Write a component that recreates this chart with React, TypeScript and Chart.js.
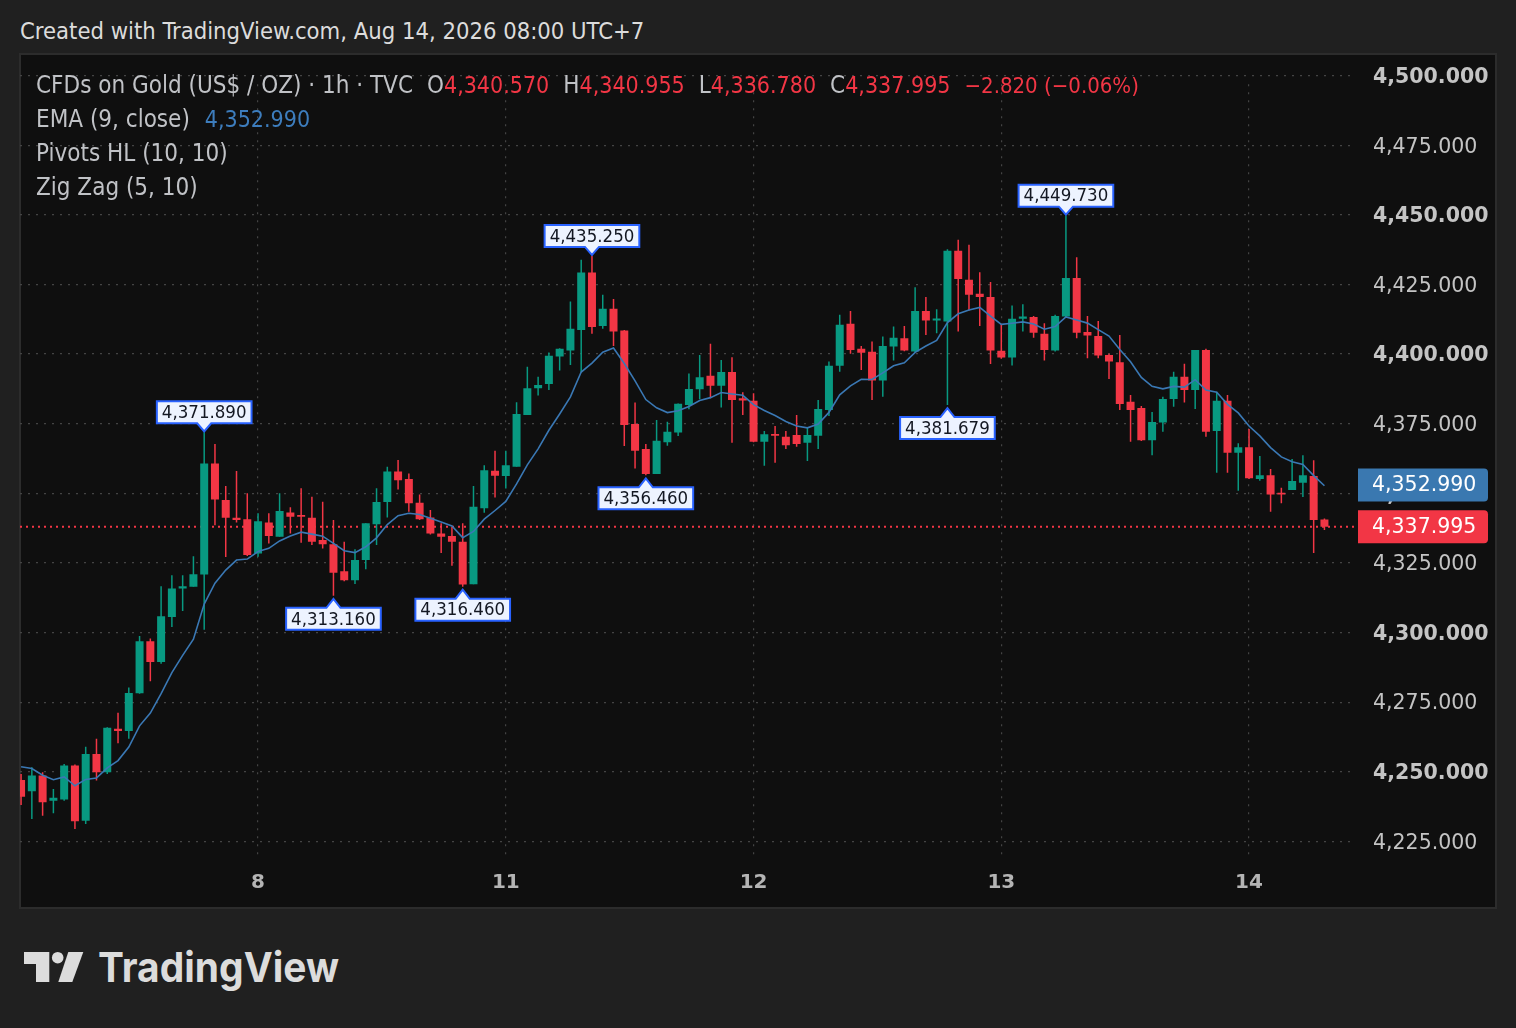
import React, { useEffect, useRef } from 'react';
import { Chart, registerables } from 'chart.js';

Chart.register(...registerables);

// ---- data (1h candles) ----
const opens = [
  4247.0, 4243.0, 4248.6, 4239.6, 4240.0, 4252.2, 4232.4, 4256.4, 4249.8, 4265.4,
  4264.6, 4278.2, 4296.9, 4289.4, 4305.6, 4315.8, 4316.4, 4320.8, 4360.7, 4347.6,
  4341.2, 4340.7, 4328.4, 4339.5, 4334.4, 4343.1, 4342.2, 4341.2, 4333.2, 4331.7,
  4322.0, 4318.8, 4326.0, 4338.9, 4346.9, 4357.8, 4355.1, 4346.6, 4341.3, 4335.6,
  4334.7, 4332.6, 4317.3, 4344.6, 4358.1, 4356.2, 4359.5, 4378.1, 4387.7, 4389.3,
  4399.1, 4401.3, 4408.7, 4429.3, 4410.1, 4416.3, 4408.5, 4374.9, 4365.9, 4356.9,
  4368.3, 4371.8, 4381.7, 4387.4, 4392.2, 4388.6, 4393.6, 4384.1, 4383.2, 4368.5,
  4371.3, 4370.3, 4370.9, 4368.2, 4370.7, 4379.9, 4395.8, 4410.9, 4401.9, 4400.8,
  4390.5, 4402.7, 4405.7, 4400.9, 4415.5, 4412.1, 4411.7, 4437.1, 4426.7, 4421.7,
  4420.5, 4401.2, 4398.8, 4412.7, 4413.3, 4407.3, 4401.3, 4413.5, 4427.3, 4407.9,
  4406.5, 4399.7, 4397.1, 4382.9, 4380.6, 4369.1, 4375.4, 4383.9, 4391.9, 4387.1,
  4401.5, 4372.4, 4383.2, 4364.6, 4366.5, 4355.1, 4356.5, 4350.2, 4351.2, 4353.8,
  4356.2, 4340.57,
];
const highs = [
  4249.2, 4251.6, 4249.8, 4243.8, 4252.8, 4252.6, 4259.0, 4261.8, 4266.0, 4271.2,
  4280.2, 4298.7, 4297.8, 4316.6, 4320.6, 4320.6, 4327.4, 4371.89, 4367.7, 4352.6,
  4358.0, 4350.0, 4342.8, 4342.8, 4350.0, 4345.0, 4351.8, 4348.8, 4347.0, 4340.4,
  4332.6, 4329.9, 4339.2, 4351.8, 4359.5, 4362.0, 4357.1, 4349.6, 4344.0, 4339.2,
  4338.0, 4339.2, 4352.6, 4360.1, 4365.3, 4365.3, 4382.7, 4395.5, 4391.9, 4400.6,
  4402.1, 4418.9, 4433.9, 4435.25, 4421.3, 4419.8, 4408.7, 4382.6, 4367.7, 4376.3,
  4375.7, 4382.3, 4393.0, 4399.7, 4403.7, 4397.9, 4398.9, 4386.3, 4385.9, 4372.4,
  4374.2, 4372.4, 4378.1, 4373.7, 4383.5, 4397.3, 4414.1, 4415.5, 4402.9, 4404.5,
  4406.3, 4409.9, 4410.1, 4424.0, 4420.5, 4416.1, 4437.7, 4441.1, 4439.3, 4429.4,
  4425.9, 4410.9, 4417.5, 4417.9, 4413.7, 4411.1, 4414.1, 4449.73, 4434.8, 4413.7,
  4411.9, 4400.1, 4406.9, 4385.3, 4381.4, 4379.2, 4384.7, 4393.7, 4396.5, 4401.5,
  4401.9, 4386.5, 4385.3, 4368.0, 4373.1, 4363.4, 4358.7, 4352.0, 4362.3, 4363.7,
  4361.9, 4340.955,
];
const lows = [
  4238.0, 4233.0, 4234.2, 4235.1, 4239.6, 4229.4, 4231.2, 4246.8, 4249.2, 4260.2,
  4261.8, 4278.0, 4282.5, 4288.8, 4302.0, 4307.7, 4316.4, 4301.0, 4338.5, 4327.1,
  4339.5, 4327.5, 4327.2, 4332.0, 4334.4, 4335.6, 4332.2, 4331.4, 4330.2, 4313.16,
  4318.4, 4317.4, 4322.7, 4331.4, 4341.3, 4351.4, 4343.4, 4340.4, 4335.2, 4328.6,
  4324.0, 4316.46, 4317.3, 4343.0, 4348.5, 4351.7, 4359.5, 4378.1, 4385.1, 4387.1,
  4394.1, 4396.1, 4393.4, 4407.3, 4409.1, 4402.9, 4367.0, 4358.9, 4356.46, 4356.9,
  4367.1, 4370.6, 4380.2, 4383.8, 4384.1, 4380.8, 4368.2, 4378.1, 4368.3, 4359.9,
  4361.0, 4365.9, 4366.7, 4361.6, 4365.9, 4377.8, 4393.7, 4400.1, 4394.3, 4383.5,
  4384.7, 4397.7, 4401.0, 4400.5, 4406.9, 4407.5, 4381.679, 4408.1, 4415.7, 4410.1,
  4396.4, 4398.3, 4395.9, 4408.1, 4405.9, 4397.7, 4400.9, 4413.3, 4405.7, 4398.5,
  4398.5, 4391.1, 4379.9, 4368.5, 4368.8, 4363.7, 4372.1, 4381.1, 4382.6, 4380.3,
  4370.3, 4357.4, 4357.4, 4350.9, 4355.1, 4354.5, 4343.4, 4346.4, 4351.2, 4348.7,
  4328.6, 4336.78,
];
const closes = [
  4241.0, 4248.6, 4239.0, 4240.6, 4252.2, 4232.2, 4256.4, 4249.8, 4265.8, 4264.6,
  4278.3, 4296.9, 4289.4, 4305.8, 4315.8, 4316.6, 4320.9, 4360.7, 4347.8, 4341.2,
  4340.4, 4327.8, 4340.0, 4334.7, 4343.6, 4341.6, 4341.6, 4332.6, 4331.7, 4321.5,
  4318.8, 4326.0, 4339.2, 4346.9, 4357.8, 4354.7, 4346.4, 4340.7, 4335.6, 4334.4,
  4332.6, 4317.2, 4345.2, 4358.3, 4356.3, 4360.1, 4378.5, 4387.7, 4388.9, 4399.4,
  4401.9, 4409.1, 4429.3, 4409.7, 4416.3, 4408.1, 4374.5, 4365.3, 4356.9, 4368.9,
  4372.1, 4382.2, 4387.5, 4391.7, 4388.6, 4393.6, 4383.5, 4383.3, 4368.5, 4371.2,
  4370.7, 4367.3, 4367.7, 4370.9, 4380.3, 4395.8, 4410.5, 4401.5, 4400.5, 4390.5,
  4402.9, 4405.9, 4401.3, 4415.5, 4412.1, 4412.8, 4437.1, 4427.0, 4421.3, 4420.5,
  4401.3, 4398.8, 4412.7, 4413.5, 4407.7, 4401.5, 4413.7, 4427.3, 4407.7, 4406.7,
  4399.5, 4397.3, 4382.1, 4379.9, 4369.1, 4375.6, 4383.9, 4391.9, 4387.1, 4401.5,
  4372.1, 4383.2, 4364.6, 4366.5, 4355.4, 4356.5, 4349.6, 4349.6, 4354.4, 4356.5,
  4340.4, 4337.995,
];

const dayTickIdx = [22, 45, 68, 91, 114];
const dayTickLabels = ['8', '11', '12', '13', '14'];
const priceTicks = [4225, 4250, 4275, 4300, 4325, 4350, 4375, 4400, 4425, 4450, 4475, 4500];

const pivotHighIdx = [17, 53, 97];
const pivotLowIdx = [29, 41, 58, 86];

const emaPeriod = 9;
const emaSeed = 4254.5; // EMA value just before the first visible candle
const emaLastValue = 4352.99; // from the legend

// ---- legend texts ----
const symbolText = 'CFDs on Gold (US$ / OZ) · 1h · TVC';
const ohlcLabels = ['O', 'H', 'L', 'C'];
const ohlcValues = ['4,340.570', '4,340.955', '4,336.780', '4,337.995'];
const changeText = '−2.820 (−0.06%)';
const emaName = 'EMA (9, close)';
const emaValueText = '4,352.990';
const pivotsName = 'Pivots HL (10, 10)';
const zigzagName = 'Zig Zag (5, 10)';
const titleText = 'Created with TradingView.com, Aug 14, 2026 08:00 UTC+7';

const UP = '#089981';
const DOWN = '#f23645';
const EMA_COLOR = '#3a78b4';
const COND = "'DejaVu Sans Condensed', 'DejaVu Sans', sans-serif";
const SANS = "'DejaVu Sans', sans-serif";

const fmt = (v: number) =>
  v.toLocaleString('en-US', { minimumFractionDigits: 3, maximumFractionDigits: 3 });

// visible index range and the price window (top/bottom grid values and their canvas pixels)
const X_MIN = -0.1;
const X_MAX = 123.93;
const PRICE_TOP = 4500;
const PRICE_BOTTOM = 4225;
const PIX_TOP = 20.7; // canvas y of PRICE_TOP
const PIX_BOTTOM = 786.3; // canvas y of PRICE_BOTTOM

export default function App() {
  const canvasRef = useRef<HTMLCanvasElement | null>(null);

  useEffect(() => {
    const canvas = canvasRef.current;
    if (!canvas) return;

    const ema: number[] = [];
    const k = 2 / (emaPeriod + 1);
    let e = emaSeed;
    closes.forEach((c) => {
      e = e + k * (c - e);
      ema.push(e);
    });

    const idx = closes.map((_, i) => i);
    const colors = idx.map((i) => (closes[i] >= opens[i] ? UP : DOWN));
    const lastClose = closes[closes.length - 1];

    const fitPrice = {
      id: 'fitPrice',
      afterLayout(chart: any) {
        const ys = chart.scales.y;
        const s = (PIX_BOTTOM - PIX_TOP) / (PRICE_TOP - PRICE_BOTTOM);
        ys.min = PRICE_BOTTOM - (ys.bottom - PIX_BOTTOM) / s;
        ys.max = PRICE_TOP + (PIX_TOP - ys.top) / s;
        ys.configure();
      },
    };

    const overlay = {
      id: 'overlay',
      afterDatasetsDraw(chart: any) {
        const { ctx, scales } = chart;
        const xs = scales.x;
        const ys = scales.y;
        ctx.save();
        ctx.font = `18.5px ${COND}`;
        const drawPivot = (i: number, price: number, isHigh: boolean) => {
          const px = xs.getPixelForValue(i);
          const py = ys.getPixelForValue(price);
          const text = fmt(price);
          const tw = ctx.measureText(text).width;
          const w = tw + 10;
          const h = 22;
          const half = 7;
          const l = px - w / 2;
          const r = px + w / 2;
          let t: number;
          ctx.beginPath();
          if (isHigh) {
            const tip = py - 1;
            const b = py - 9;
            t = b - h;
            ctx.moveTo(l, t);
            ctx.lineTo(r, t);
            ctx.lineTo(r, b);
            ctx.lineTo(px + half, b);
            ctx.lineTo(px, tip);
            ctx.lineTo(px - half, b);
            ctx.lineTo(l, b);
          } else {
            const tip = py + 3;
            t = py + 12;
            const b = t + h;
            ctx.moveTo(l, t);
            ctx.lineTo(px - half, t);
            ctx.lineTo(px, tip);
            ctx.lineTo(px + half, t);
            ctx.lineTo(r, t);
            ctx.lineTo(r, b);
            ctx.lineTo(l, b);
          }
          ctx.closePath();
          ctx.fillStyle = '#edf3ff';
          ctx.fill();
          ctx.lineWidth = 2;
          ctx.strokeStyle = '#2962ff';
          ctx.lineJoin = 'miter';
          ctx.stroke();
          ctx.fillStyle = '#131722';
          ctx.textAlign = 'center';
          ctx.textBaseline = 'middle';
          ctx.fillText(text, px, t + h / 2 + 1);
        };
        pivotHighIdx.forEach((i) => drawPivot(i, highs[i], true));
        pivotLowIdx.forEach((i) => drawPivot(i, lows[i], false));
        ctx.restore();
      },
      afterDraw(chart: any) {
        const { ctx, scales, chartArea } = chart;
        const ys = scales.y;
        ctx.save();
        const badge = (value: number, bg: string) => {
          const cy = ys.getPixelForValue(value);
          const left = chartArea.right + 2;
          const w = 130;
          const h = 33;
          const t = cy - h / 2;
          const rr = 4;
          ctx.beginPath();
          ctx.moveTo(left, t);
          ctx.lineTo(left + w - rr, t);
          ctx.quadraticCurveTo(left + w, t, left + w, t + rr);
          ctx.lineTo(left + w, t + h - rr);
          ctx.quadraticCurveTo(left + w, t + h, left + w - rr, t + h);
          ctx.lineTo(left, t + h);
          ctx.closePath();
          ctx.fillStyle = bg;
          ctx.fill();
          ctx.fillStyle = '#ffffff';
          ctx.font = `20.5px ${SANS}`;
          ctx.textAlign = 'left';
          ctx.textBaseline = 'middle';
          ctx.fillText(fmt(value), left + 14, t + h / 2 + 0.5);
        };
        badge(emaLastValue, '#3a78b0');
        badge(lastClose, DOWN);
        ctx.restore();
      },
    };

    const chart = new Chart(canvas, {
      type: 'bar',
      data: {
        datasets: [
          {
            type: 'line',
            label: 'last',
            data: [
              { x: X_MIN, y: lastClose },
              { x: X_MAX, y: lastClose },
            ],
            borderColor: DOWN,
            borderWidth: 2,
            borderDash: [2, 4],
            pointRadius: 0,
            order: 5,
          } as any,
          {
            type: 'bar',
            label: 'wicks',
            data: idx.map((i) => ({ x: i, y: [lows[i], highs[i]] })) as any,
            backgroundColor: colors,
            barThickness: 1.5,
            grouped: false,
            inflateAmount: 0,
            order: 4,
          } as any,
          {
            type: 'bar',
            label: 'bodies',
            data: idx.map((i) => ({ x: i, y: [opens[i], closes[i]] })) as any,
            backgroundColor: colors,
            barThickness: 8,
            minBarLength: 1.5,
            grouped: false,
            inflateAmount: 0,
            order: 3,
          } as any,
          {
            type: 'line',
            label: 'ema',
            data: idx.map((i) => ({ x: i, y: ema[i] })),
            borderColor: EMA_COLOR,
            borderWidth: 1.6,
            pointRadius: 0,
            tension: 0,
            order: 1,
          } as any,
        ],
      },
      options: {
        responsive: false,
        animation: false,
        events: [],
        layout: { padding: 0, autoPadding: false },
        plugins: {
          legend: { display: false },
          tooltip: { enabled: false },
          title: { display: false },
        },
        scales: {
          x: {
            type: 'linear',
            min: X_MIN,
            max: X_MAX,
            offset: false,
            afterFit: (s: any) => {
              s.height = 49;
            },
            afterBuildTicks: (s: any) => {
              s.ticks = dayTickIdx.map((v) => ({ value: v }));
            },
            grid: {
              color: '#444444',
              lineWidth: 1.2,
              drawTicks: false,
              offset: false,
            },
            border: { display: false, dash: [2, 6] },
            ticks: {
              autoSkip: false,
              maxRotation: 0,
              padding: 13,
              color: '#b4b4b4',
              font: { family: SANS, size: 20, weight: 'bold' },
              callback: (_v: any, i: number) => dayTickLabels[i],
            },
          } as any,
          y: {
            type: 'linear',
            position: 'right',
            min: 4218,
            max: 4507,
            afterFit: (s: any) => {
              s.width = 139;
            },
            afterBuildTicks: (s: any) => {
              s.ticks = priceTicks.map((v) => ({ value: v }));
            },
            grid: {
              color: '#444444',
              lineWidth: 1.2,
              drawTicks: false,
            },
            border: { display: false, dash: [2, 6] },
            ticks: {
              padding: 17,
              labelOffset: 2,
              color: '#c4c4c4',
              crossAlign: 'near',
              font: (c: any) => ({
                family: SANS,
                size: 20.5,
                weight: c.tick && c.tick.value % 50 === 0 ? 'bold' : 'normal',
              }),
              callback: (v: any) => fmt(Number(v)),
            },
          } as any,
        },
      },
      plugins: [fitPrice, overlay],
    } as any);

    return () => {
      chart.destroy();
    };
  }, []);

  const legendLine: React.CSSProperties = {
    height: 34,
    lineHeight: '34px',
    whiteSpace: 'nowrap',
  };
  const valStyle: React.CSSProperties = { color: DOWN, fontSize: 23 };

  return (
    <div
      style={{
        position: 'fixed',
        left: 0,
        top: 0,
        width: 1516,
        height: 1028,
        background: '#202020',
        overflow: 'hidden',
        fontFamily: COND,
      }}
    >
      <div
        style={{
          position: 'absolute',
          left: 20,
          top: 14,
          height: 34,
          lineHeight: '34px',
          fontSize: 23.6,
          color: '#dcdcdc',
          whiteSpace: 'nowrap',
        }}
      >
        {titleText}
      </div>
      <div
        style={{
          position: 'absolute',
          left: 19,
          top: 53,
          width: 1478,
          height: 856,
          boxSizing: 'border-box',
          border: '2px solid #2c2c2c',
          background: '#0f0f0f',
        }}
      />
      <canvas
        ref={canvasRef}
        width={1475}
        height={852}
        style={{ position: 'absolute', left: 20, top: 55, width: 1475, height: 852 }}
      />
      <div
        style={{
          position: 'absolute',
          left: 36,
          top: 68,
          fontSize: 24,
          color: '#c0c2c6',
        }}
      >
        <div style={legendLine}>
          <span>{symbolText}</span>
          {ohlcLabels.map((lab, i) => (
            <span key={lab} style={{ marginLeft: 14 }}>
              {lab}
              <span style={valStyle}>{ohlcValues[i]}</span>
            </span>
          ))}
          <span style={{ ...valStyle, marginLeft: 14, fontSize: 22 }}>{changeText}</span>
        </div>
        <div style={legendLine}>
          {emaName}
          <span style={{ marginLeft: 15, color: '#3d7dbd', fontSize: 23 }}>{emaValueText}</span>
        </div>
        <div style={legendLine}>{pivotsName}</div>
        <div style={legendLine}>{zigzagName}</div>
      </div>
      <svg
        width={400}
        height={80}
        style={{ position: 'absolute', left: 0, top: 930 }}
      >
        <path d="M24 22 H49.3 V52 H36 V34 H24 Z" fill="#dcdcdc" />
        <circle cx={57.7} cy={27.7} r={5.8} fill="#dcdcdc" />
        <path d="M68.3 22 H83.3 L72.3 52 H58.3 Z" fill="#dcdcdc" />
        <text
          x={98}
          y={52}
          fill="#dcdcdc"
          fontFamily="Inter, 'Noto Sans', sans-serif"
          fontWeight={700}
          fontSize={41}
          textLength={241}
          lengthAdjust="spacingAndGlyphs"
        >
          TradingView
        </text>
      </svg>
    </div>
  );
}
